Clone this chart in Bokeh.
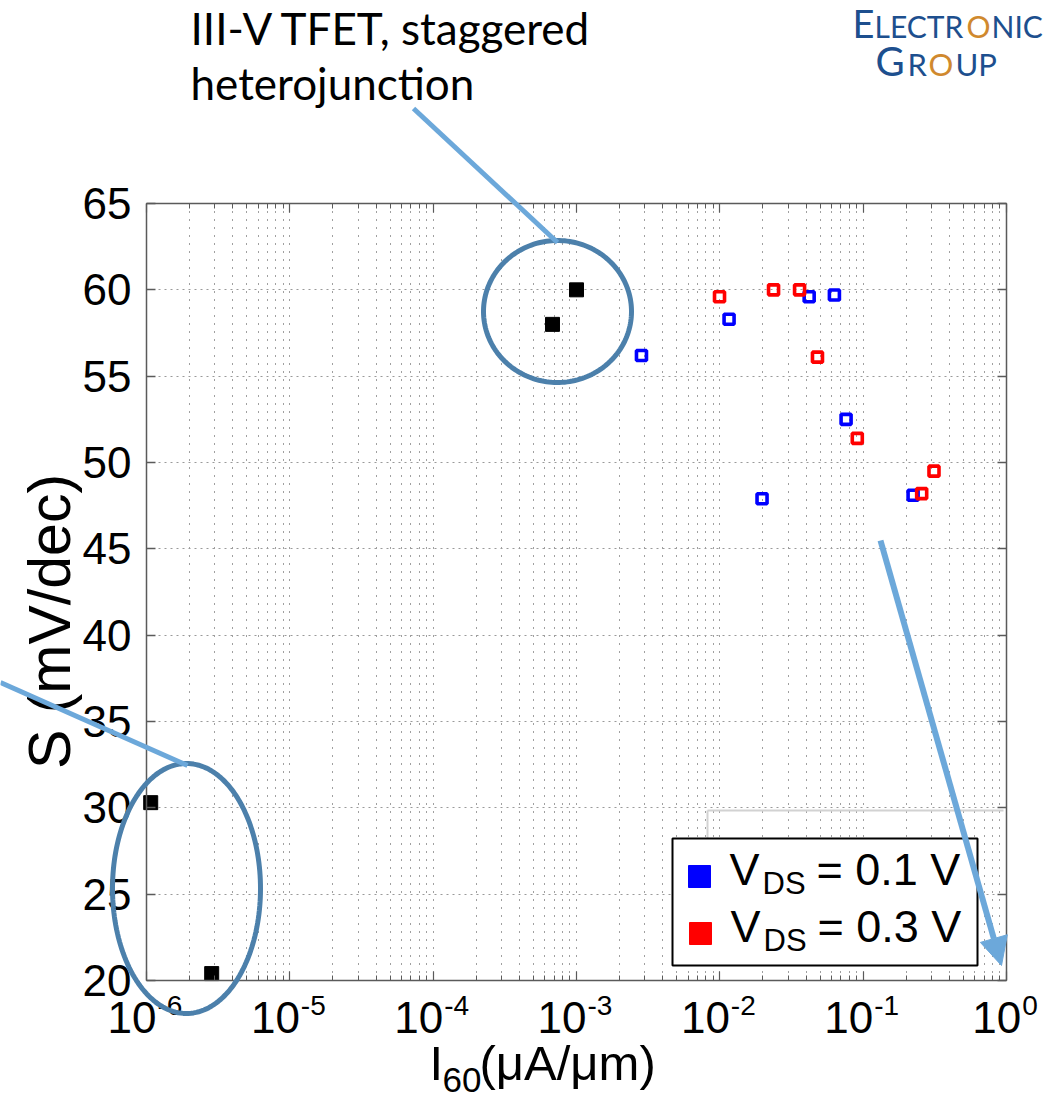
import numpy as np
from bokeh.plotting import figure
from bokeh.models import (Range1d, FixedTicker, LogAxis, LinearAxis, CustomJSTickFormatter,
                          Label, Arrow, NormalHead, PolyAnnotation, BoxAnnotation)
from bokeh.embed import file_html
from bokeh.resources import INLINE

# ---------------- data ----------------
black_x = [1.07e-6, 2.85e-6, 6.8e-4, 1.0e-3]
black_y = [30.3, 20.4, 58.0, 60.0]

blue_x = [2.84e-3, 1.16e-2, 1.97e-2, 4.2e-2, 6.3e-2, 7.6e-2, 2.23e-1]
blue_y = [56.2, 58.3, 47.9, 59.6, 59.7, 52.5, 48.1]

red_x = [9.95e-3, 2.37e-2, 3.6e-2, 4.8e-2, 9.1e-2, 2.56e-1, 3.12e-1]
red_y = [59.6, 60.0, 60.0, 56.1, 51.4, 48.2, 49.5]

x_ticks = [1e-6, 1e-5, 1e-4, 1e-3, 1e-2, 1e-1, 1e0]
x_tick_exp = ["-6", "-5", "-4", "-3", "-2", "-1", "0"]
y_ticks = [20, 25, 30, 35, 40, 45, 50, 55, 60, 65]
legend_values = ["0.1", "0.3"]
legend_colors = ["#0000FF", "#FF0000"]

# ---------------- layout ----------------
W, H = 1055, 1100
FONT = "Liberation Sans"
X0, X1 = x_ticks[0], x_ticks[-1]
Y0, Y1 = y_ticks[0], y_ticks[-1]
# pixel box of the axes area inside the page
PL, PR, PT, PB = 146, 1006, 203, 980
dec_px = (PR - PL) / (np.log10(X1) - np.log10(X0))
unit_px = (PB - PT) / (Y1 - Y0)
xr = Range1d(10 ** (np.log10(X0) - PL / dec_px), 10 ** (np.log10(X1) + (W - PR) / dec_px))
yr = Range1d(Y0 - (H - PB) / unit_px, Y1 + PT / unit_px)

p = figure(width=W, height=H, x_axis_type="log", x_range=xr, y_range=yr,
           output_backend="svg", toolbar_location=None, min_border=0,
           min_border_left=0, min_border_right=0, min_border_top=0, min_border_bottom=0)
p.background_fill_color = "white"
p.border_fill_color = "white"
p.outline_line_color = None

minor_x = [m * 10.0 ** e for e in range(-6, 0) for m in range(2, 10)]
xt = FixedTicker(ticks=x_ticks, minor_ticks=minor_x)
yt = FixedTicker(ticks=y_ticks)

AX_COL = "#5a5a5a"

def style_x(ax, loc):
    ax.ticker = xt
    ax.formatter = CustomJSTickFormatter(code="return ''")
    ax.fixed_location = loc
    ax.bounds = (X0, X1)
    ax.axis_line_color = AX_COL
    ax.axis_line_width = 1.5
    ax.major_tick_in = 9
    ax.major_tick_out = 0
    ax.minor_tick_in = 5
    ax.minor_tick_out = 0
    ax.major_tick_line_color = AX_COL
    ax.minor_tick_line_color = AX_COL
    ax.major_tick_line_width = 1.2
    ax.minor_tick_line_width = 1.0

def style_y(ax, loc):
    ax.ticker = yt
    ax.fixed_location = loc
    ax.bounds = (Y0, Y1)
    ax.axis_line_color = AX_COL
    ax.axis_line_width = 1.5
    ax.major_tick_in = 9
    ax.major_tick_out = 0
    ax.minor_tick_line_color = None
    ax.major_tick_line_color = AX_COL
    ax.major_tick_line_width = 1.5

style_x(p.xaxis[0], Y0)
style_y(p.yaxis[0], X0)
p.yaxis[0].major_label_text_font = FONT
p.yaxis[0].major_label_text_font_size = "44px"
p.yaxis[0].major_label_text_color = "black"
p.yaxis[0].major_label_standoff = 15

top_ax = LogAxis()
style_x(top_ax, Y1)
p.add_layout(top_ax, "above")
right_ax = LinearAxis()
style_y(right_ax, X1)
right_ax.formatter = CustomJSTickFormatter(code="return ''")
p.add_layout(right_ax, "right")

p.xgrid.ticker = xt
p.xgrid.bounds = (X0, X1)
p.xgrid.cross_bounds = (Y0, Y1)
p.xgrid.grid_line_color = "#404040"
p.xgrid.grid_line_dash = "1 7"
p.xgrid.grid_line_width = 1
p.xgrid.minor_grid_line_color = "#404040"
p.xgrid.minor_grid_line_dash = "1 7"
p.xgrid.minor_grid_line_width = 1
p.ygrid.ticker = yt
p.ygrid.bounds = (Y0 + 0.01, Y1 - 0.01)
p.ygrid.cross_bounds = (X0, X1)
p.ygrid.grid_line_color = "#9a9a9a"
p.ygrid.grid_line_dash = "2 4"
p.ygrid.grid_line_width = 1

# ghost legend outline
ghost = "#d2d2d2"
p.add_layout(Arrow(end=None, x_start=707, y_start=810, x_end=1003, y_end=810,
                   start_units="canvas", end_units="canvas", line_color=ghost, line_width=2))
p.add_layout(Arrow(end=None, x_start=707, y_start=810, x_end=707, y_end=838,
                   start_units="canvas", end_units="canvas", line_color=ghost, line_width=2))

# ---------------- data marks ----------------
p.scatter(black_x, black_y, marker="square", size=14, fill_color="black", line_color="black")
p.scatter(blue_x, blue_y, marker="square", size=10, fill_color=None,
          line_color="#0000FF", line_width=3.6)
p.scatter(red_x, red_y, marker="square", size=10, fill_color=None,
          line_color="#FF0000", line_width=3.6)

# ---------------- legend (manual, with subscripts) ----------------
p.add_layout(BoxAnnotation(left=672, right=977, top=838, bottom=965,
                           left_units="canvas", right_units="canvas",
                           top_units="canvas", bottom_units="canvas",
                           fill_color="white", fill_alpha=1.0,
                           line_color="black", line_width=2, line_alpha=1.0))

K = 0.36  # baseline correction (fraction of font size)

def lab(text, x, y, size, font=FONT, color="black", align="left",
        angle=0.0, xu="canvas", x_offset=0):
    dx = -K * size * np.sin(angle)
    dy = -K * size * np.cos(angle)
    if xu == "canvas":
        x = x + dx
    p.add_layout(Label(text=text, x=x, y=y + dy, x_units=xu, y_units="canvas",
                       text_font=font, text_font_size=f"{size}px", text_color=color,
                       text_align=align, text_baseline="alphabetic", angle=angle,
                       x_offset=x_offset))

row_base = [885, 942]
for i, (val, col) in enumerate(zip(legend_values, legend_colors)):
    b = row_base[i]
    p.add_layout(BoxAnnotation(left=688 + i, right=710 + i, top=b - 20, bottom=b + 2,
                               left_units="canvas", right_units="canvas",
                               top_units="canvas", bottom_units="canvas",
                               fill_color=col, fill_alpha=1.0, line_color=col, line_alpha=1.0))
    lab("V", 729 + i, b, 45)
    lab("DS", 762 + i, b + 9, 31)
    lab(f"= {val} V", 816 + i, b, 45)

# ---------------- x tick labels with superscripts ----------------
fs_base, fs_sup = 44, 28
w10 = 2 * 0.556 * fs_base
for tv, ex in zip(x_ticks, x_tick_exp):
    wsup = sum((0.333 if ch == "-" else 0.556) for ch in ex) * fs_sup
    d = (w10 - wsup) / 2
    lab("10", tv, 1033, fs_base, align="right", xu="data", x_offset=d - 2)
    lab(ex, tv, 1015, fs_sup, align="left", xu="data", x_offset=d - 1)

# ---------------- axis titles ----------------
lab("I", 429, 1080, 49)
lab("60", 442, 1092, 35)
lab("(\u03bcA/\u03bcm)", 479, 1080, 49)
lab("S (mV/dec)", 71, 621, 59, align="center", angle=np.pi / 2)

# ---------------- callouts ----------------
ell_col = "#4C80AB"
arr_col = "#6CA8DA"
t = np.linspace(0, 2 * np.pi, 180)

def ellipse(cx, cyy, rx, ry):
    xs = list(cx + rx * np.cos(t))
    ys = list(cyy + ry * np.sin(t))
    p.add_layout(PolyAnnotation(xs=xs, ys=ys, xs_units="canvas", ys_units="canvas",
                                fill_alpha=0, line_color=ell_col, line_width=5, line_alpha=1.0))

ellipse(557, 311, 74, 71)
ellipse(186, 888, 74, 125)

p.add_layout(Arrow(end=None, x_start=413, y_start=108, x_end=557, y_end=242,
                   start_units="canvas", end_units="canvas", line_color=arr_col, line_width=5))
p.add_layout(Arrow(end=None, x_start=0, y_start=682, x_end=187, y_end=765,
                   start_units="canvas", end_units="canvas", line_color=arr_col, line_width=5))
p.add_layout(Arrow(end=NormalHead(size=28, fill_color=arr_col, line_color=arr_col),
                   x_start=880, y_start=540, x_end=1001, y_end=965,
                   start_units="canvas", end_units="canvas", line_color=arr_col, line_width=6))

# ---------------- header texts ----------------
lab("III-V TFET, staggered", 190, 43, 44, font="Lato")
lab("heterojunction", 190, 98, 44, font="Lato")

logo_blue = "#1D4F8E"
logo_orange = "#D0892E"
lab("E", 852, 36, 38, font="Lato", color=logo_blue)
lab("LECTR", 874, 36, 30, font="Lato", color=logo_blue)
lab("O", 966, 36, 30, font="Lato", color=logo_orange)
lab("NIC", 991, 36, 30, font="Lato", color=logo_blue)
lab("G", 875, 75, 40, font="Lato", color=logo_blue)
lab("R", 907, 75, 31, font="Lato", color=logo_blue)
lab("O", 928, 75, 31, font="Lato", color=logo_orange)
lab("UP", 955, 75, 31, font="Lato", color=logo_blue)

open("out.html", "w").write(file_html(p, INLINE))
